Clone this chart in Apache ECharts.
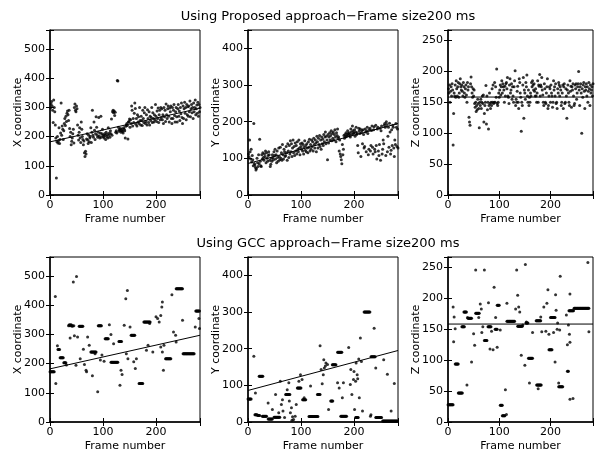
<!DOCTYPE html>
<html>
<head>
<meta charset="utf-8">
<script src="https://cdn.jsdelivr.net/npm/echarts@6/dist/echarts.min.js"></script>
<style>
  html, body { margin: 0; padding: 0; background: #fff; }
  #chart { width: 596px; height: 455px; }
</style>
</head>
<body>
<div id="chart"></div>
<script>
// frame-by-frame estimates, proposed approach (frames 1..283)
var propX = [
  298,312,320,305,290,248,325,300,285,240, 195,58,182,200,178,186,230,176,190,212,
  315,205,236,225,190,220,245,262,238,270, 252,280,288,275,255,290,228,200,215,172,
  184,195,210,225,178,300,312,290,285,305, 295,240,205,188,215,230,196,180,250,225,
  200,190,172,185,145,132,150,140,192,210, 188,176,205,182,195,200,230,180,215,290,
  205,198,250,222,190,210,268,232,205,198, 215,265,202,195,212,270,198,210,225,205,
  200,195,210,205,190,215,200,208,195,230, 205,212,198,220,210,260,205,285,290,282,
  288,272,283,215,220,212,392,390,232,218, 225,222,228,215,220,226,218,212,230,225,
  220,195,235,240,245,238,192,250,252,260, 232,258,245,305,290,236,262,248,280,315,
  296,242,262,236,275,250,268,245,300,255, 240,270,255,238,290,262,248,282,300,245,
  252,275,240,292,262,248,285,240,270,255, 265,300,248,282,262,250,275,258,310,270,
  252,288,262,298,248,275,290,258,300,265, 295,258,275,245,300,268,290,252,312,275,
  262,295,305,270,250,298,285,305,262,245, 300,262,290,310,272,250,285,300,268,250,
  295,310,270,288,255,300,278,315,265,245, 305,262,295,318,280,300,258,310,275,302,
  270,305,285,322,268,295,310,282,300,262, 315,285,300,325,275,295,308,280,318,270,
  310,285,300
];
var propY = [
  112,104,150,118,98,125,90,108,96,80, 195,86,82,75,68,72,100,88,78,110,
  85,152,92,80,78,110,98,115,102,95, 112,105,120,88,115,100,92,108,118,110,
  95,78,84,100,92,110,102,96,118,108, 125,98,110,88,120,102,92,128,105,96,
  130,100,115,95,138,110,98,125,118,105, 108,132,115,95,140,120,102,135,112,148,
  118,140,105,128,150,115,132,108,142,120, 135,112,145,125,118,150,128,110,140,132,
  125,142,120,138,112,130,148,122,135,118, 140,128,115,145,130,152,120,138,125,150,
  132,145,120,155,138,128,150,142,118,160, 145,128,155,138,162,132,150,125,158,140,
  152,135,165,145,158,172,140,160,150,96, 165,142,158,170,150,162,175,148,168,155,
  172,150,165,178,158,145,170,162,180,155, 158,120,150,112,105,96,85,138,110,125,
  162,155,165,158,170,160,165,175,168,162, 170,165,158,180,172,165,188,175,168,170,
  178,160,172,185,165,170,135,115,182,175, 168,180,105,170,176,140,178,165,128,132,
  180,172,118,175,185,168,110,125,178,182, 120,135,176,188,130,112,178,186,125,118,
  190,135,98,180,185,120,108,138,182,95, 175,188,112,125,150,140,190,195,185,108,
  200,192,118,160,185,130,196,172,112,122, 178,135,190,185,128,105,150,138,195,185,
  132,180,128
];
var propZ = [
  172,165,178,150,168,175,160,180,170,81, 132,165,160,178,158,185,172,160,175,182,
  158,165,180,188,175,170,178,168,160,182, 175,165,158,172,178,162,150,182,170,175,
  126,118,113,180,191,175,165,158,172,160, 170,148,142,150,135,145,138,155,148,140,
  109,150,145,155,140,150,160,148,162,118, 132,145,150,177,115,160,138,150,107,145,
  165,148,140,150,145,172,150,178,148,150, 182,150,175,158,204,148,145,150,165,158,
  170,178,162,175,185,165,180,175,170,150, 176,160,180,182,172,190,160,158,148,178,
  188,165,170,180,155,175,160,150,175,185, 201,145,155,150,168,176,150,140,188,182,
  165,158,103,150,145,178,190,124,170,165, 155,182,175,194,160,150,170,145,158,150,
  165,160,182,175,185,178,170,180,168,160, 172,160,150,165,185,150,178,176,195,160,
  178,175,190,170,162,150,145,180,172,150, 148,165,175,188,140,145,160,175,172,150,
  178,165,160,142,150,185,170,175,160,180, 148,150,140,172,165,182,178,160,175,170,
  145,150,165,178,140,175,180,148,150,172, 160,124,170,178,165,150,145,185,168,176,
  142,175,170,180,160,145,148,178,172,180, 155,165,175,180,200,170,145,175,180,165,
  100,172,158,178,182,168,140,175,170,180, 160,175,150,168,182,172,145,178,165,170,
  175,160,180
];

// GCC approach: [frame, value] (runs of equal values show as short dashes)
var gccX = [
  [0,172],[1,172],[2,172],[3,172],[4,172],[5,172],[6,172],[7,172],[8,172],[10,430],[11,132],
  [14,261],[15,248],[16,248],[17,248],[18,248],[19,220],[20,220],[21,220],[22,220],[23,220],[24,220],[25,220],
  [26,203],[27,203],[28,203],[29,203],[30,203],[31,195],[35,330],[36,332],[37,333],[38,330],[39,332],[40,333],
  [41,330],[42,328],[43,330],[45,330],[38,288],[44,479],[46,295],[49,194],[50,498],[52,291],
  [55,328],[56,328],[57,328],[58,328],[59,328],[60,328],[61,328],[62,328],[57,217],[63,249],[65,197],[68,177],
  [69,172],[71,291],[74,263],[77,240],[78,240],[79,240],[80,240],[81,240],[82,240],[83,240],[84,240],[85,240],
  [86,240],[87,240],[80,158],[85,234],[90,104],[91,330],[92,330],[93,330],[94,330],[95,330],[96,330],[97,330],
  [95,212],[98,229],[102,208],[104,285],[105,285],[106,285],[107,285],[108,285],[109,285],[110,285],[112,333],[115,300],
  [115,205],[116,205],[117,205],[118,205],[119,205],[120,205],[121,205],[122,205],[123,205],[124,205],[125,205],
  [126,205],[127,205],[128,205],[120,268],[130,276],[131,276],[132,276],[133,276],[134,276],[135,276],
  [132,126],[134,177],[136,163],[140,331],[143,422],[144,234],[146,450],[147,217],[151,325],
  [153,297],[154,297],[155,297],[156,297],[157,297],[158,297],[159,297],[160,297],[158,206],[161,183],[163,217],
  [168,132],[169,132],[170,132],[171,132],[172,132],[173,132],[174,132],[175,132],
  [177,342],[178,342],[179,342],[180,342],[181,342],[182,342],[183,342],[184,342],[185,342],[186,342],[187,342],
  [188,342],[189,342],[182,246],[185,263],[188,337],[194,240],[200,360],[203,354],[206,342],[209,365],[211,394],
  [212,411],[209,257],[212,240],[214,177],[215,263],
  [218,217],[219,217],[220,217],[221,217],[222,217],[223,217],[224,217],[225,217],[226,217],[227,217],[228,217],
  [230,436],[233,308],[237,297],[238,274],
  [238,456],[239,456],[240,456],[241,456],[242,456],[243,456],[244,456],[245,456],[246,456],[247,456],[248,456],
  [249,456],[250,456],[250,348],
  [251,234],[252,234],[253,234],[254,234],[255,234],[256,234],[257,234],[258,234],[259,234],[260,234],[261,234],
  [262,234],[263,234],[264,234],[265,234],[266,234],[267,234],[268,234],[269,234],[270,234],[271,234],[272,234],
  [274,325],[275,380],[276,380],[277,380],[278,380],[279,380],[280,380],[281,380],[282,380],[281,354],[282,320]
];
var gccY = [
  [0,63],[1,63],[2,63],[3,63],[4,63],[5,63],[6,63],[11,179],[14,79],
  [13,20],[14,20],[15,20],[16,20],[17,19],[18,19],[19,18],[20,18],[21,18],[22,18],
  [21,125],[22,125],[23,125],[24,125],[25,125],[26,125],[27,125],[28,125],
  [27,16],[28,16],[29,16],[30,16],[31,16],[32,16],[33,16],[34,16],[35,16],[38,52],
  [38,8],[39,8],[40,8],[41,8],[42,8],[43,8],[44,8],[45,8],[46,8],[46,34],[52,75],
  [49,13],[50,13],[51,13],[52,13],[53,13],[54,13],[55,13],[56,13],[57,13],[58,13],[59,13],[60,13],
  [58,25],[61,111],[63,48],[65,61],[66,30],[69,12],
  [71,75],[72,75],[73,75],[74,75],[75,75],[76,75],[77,75],[78,75],[79,75],
  [74,88],[77,107],[78,57],[80,25],[82,39],[83,5],[84,14],[86,7],[89,16],[91,48],
  [93,93],[94,93],[95,93],[96,93],[97,93],[98,93],[99,93],[100,93],[96,111],[99,129],[102,116],
  [103,61],[104,61],[105,61],[106,61],[107,61],[108,61],[109,61],[106,66],
  [115,15],[116,15],[117,15],[118,15],[119,15],[120,15],[121,15],[122,15],[123,15],[124,15],[125,15],
  [126,15],[127,15],[128,15],[129,15],[130,15],[131,15],[132,15],[118,98],
  [131,75],[132,75],[133,75],[134,75],[135,75],[136,75],
  [136,208],[138,143],[140,104],[142,129],[143,170],[144,147],[146,153],[147,161],[150,157],[152,34],
  [156,57],[157,57],[158,57],[159,57],[160,57],
  [159,156],[160,156],[161,156],[162,156],[163,156],[164,156],[165,156],[166,156],[169,107],[172,93],
  [169,190],[170,190],[171,190],[172,190],[173,190],[174,190],[175,190],[176,190],[177,190],
  [175,16],[176,16],[177,16],[178,16],[179,16],[180,16],[181,16],[182,16],[183,16],[184,16],[185,16],[186,16],
  [178,66],[180,107],[190,203],[193,102],[194,143],[196,75],[199,116],[200,138],[201,34],[203,111],[204,161],
  [203,12],[204,12],[205,12],[206,12],[207,12],[208,12],
  [206,129],[207,118],[209,172],[210,66],[212,229],[214,165],[216,30],
  [219,300],[220,300],[221,300],[222,300],[223,300],[224,300],[225,300],[226,300],[227,300],[228,300],[229,300],[230,300],
  [231,16],[232,20],
  [232,178],[233,178],[234,178],[235,178],[236,178],[237,178],[238,178],[239,178],[240,178],
  [238,256],[241,147],
  [241,12],[242,12],[243,12],[244,12],[245,12],[246,12],[247,12],[248,12],[249,12],[250,12],[251,12],[252,12],
  [254,3],[255,3],[256,3],[257,3],[258,3],[259,3],[260,3],[261,3],[262,3],[263,3],[264,3],[265,3],[266,3],
  [267,3],[268,3],[269,3],[270,3],[271,3],[272,3],[273,3],[274,3],[275,3],[276,3],[277,3],[278,3],[279,3],
  [280,3],[281,3],[282,3],[256,170],[263,130],[270,30],[276,105]
];
var gccZ = [
  [0,28],[1,28],[2,28],[3,28],[4,28],[5,28],[6,28],[7,28],[8,28],[9,28],[10,28],
  [10,186],[11,130],[12,170],[14,151],
  [14,94],[15,94],[16,94],[17,94],[18,94],[19,94],[20,94],
  [20,47],[21,47],[22,47],[23,47],[24,47],[25,47],[26,47],[27,47],[28,47],
  [27,154],[28,154],[29,154],[30,154],[31,154],[32,154],
  [31,178],[32,178],[33,178],[34,178],[35,178],[36,178],[37,60],[38,169],
  [39,168],[40,168],[41,168],[42,168],[43,168],[44,168],[45,168],[46,168],
  [46,97],[50,143],[52,124],[54,246],
  [54,176],[55,176],[56,176],[57,176],[58,176],[59,176],[60,176],[61,176],
  [60,169],[63,191],[65,183],[66,145],[68,154],[71,246],
  [71,132],[72,132],[73,132],[74,132],[75,132],[76,132],[79,193],
  [78,154],[79,154],[80,154],[81,154],[82,154],[83,154],[84,154],
  [82,118],[85,147],[88,117],[90,218],[93,169],
  [92,150],[93,150],[94,150],[95,150],[96,150],
  [96,189],[97,189],[98,189],[99,189],[100,189],[96,121],[102,149],
  [102,27],[103,27],[104,27],[105,27],[106,27],
  [106,10],[107,10],[108,10],[109,10],[110,10],[111,10],[112,52],[114,12],[115,192],
  [115,163],[116,163],[117,163],[118,163],[119,163],[120,163],[121,163],[122,163],[123,163],[124,163],
  [125,163],[126,163],[127,163],[128,163],[129,163],[130,163],
  [132,183],[134,246],[136,205],[138,186],[140,178],
  [136,155],[137,155],[138,155],[139,155],[140,155],[141,155],[142,155],[143,155],[144,155],[145,155],
  [143,108],[146,157],[150,92],[151,255],[153,162],
  [152,160],[153,160],[154,160],[155,160],[156,160],[159,63],
  [157,103],[158,103],[159,103],[160,103],[161,103],[162,103],[163,103],[164,103],[165,103],[165,145],
  [172,164],[173,164],[174,164],[175,164],[176,164],[177,164],[178,164],[179,164],[180,164],[181,164],
  [173,60],[174,60],[175,60],[176,60],[177,60],[178,60],[179,60],[180,60],[181,60],[182,60],
  [176,54],[181,170],[183,146],[187,186],[191,147],[193,192],[195,214],[197,142],
  [197,117],[198,117],[199,117],[200,117],[201,117],[202,117],[203,117],
  [200,169],[201,169],[202,169],[203,169],[204,169],[205,169],[206,169],[207,169],[208,169],[209,169],
  [206,145],[209,97],[210,206],[211,181],[213,150],[214,160],[216,63],[218,149],[219,236],
  [216,57],[217,57],[218,57],[219,57],[220,57],[221,57],[222,57],[223,57],[224,57],
  [231,173],[233,125],[233,82],[234,82],[235,82],
  [235,157],[237,142],[238,129],[238,207],[238,37],[244,38],
  [236,180],[237,180],[238,180],[239,180],[240,180],[241,180],[242,180],[243,180],[244,180],[245,180],
  [246,184],[247,184],[248,184],[249,184],[250,184],[251,184],[252,184],[253,184],[254,184],[255,184],
  [256,184],[257,184],[258,184],[259,184],[260,184],[261,184],[262,184],[263,184],[264,184],[265,184],
  [266,184],[267,184],[268,184],[269,184],[270,184],[271,184],[272,184],[273,184],[274,184],[275,184],
  [273,258],[275,146]
];

// fitted lines: [frame, value] at both ends
var lineX = [[0, 182], [283, 297]];
var lineY = [[0, 86], [283, 195]];
var lineZ = [[0, 158.5], [283, 158.5]];

var titles = ['Using Proposed approach\u2212Frame size200 ms', 'Using GCC approach\u2212Frame size200 ms'];
var FONT = 'DejaVu Sans';
var frameMax = 283;

function byFrame(arr) {
  return arr.map(function (v, i) { return [i + 1, v]; });
}

var panels = [
  { left: 50,  top: 30,  ymax: 565, step: 100, name: 'X coordinate', pts: byFrame(propX), line: lineX },
  { left: 248, top: 30,  ymax: 450, step: 100, name: 'Y coordinate', pts: byFrame(propY), line: lineY },
  { left: 448, top: 30,  ymax: 267, step: 50,  name: 'Z coordinate', pts: byFrame(propZ), line: lineZ },
  { left: 50,  top: 257, ymax: 565, step: 100, name: 'X coordinate', pts: gccX, line: lineX },
  { left: 248, top: 257, ymax: 450, step: 100, name: 'Y coordinate', pts: gccY, line: lineY },
  { left: 448, top: 257, ymax: 267, step: 50,  name: 'Z coordinate', pts: gccZ, line: lineZ }
];

function fmt(step) {
  return function (v) { return v % step === 0 ? String(v) : ''; };
}

var grid = [], xAxis = [], yAxis = [], series = [];
var txt = { color: '#000', fontFamily: FONT, fontSize: 11 };

panels.forEach(function (p, i) {
  grid.push({ left: p.left, top: p.top, width: 150, height: 165, show: true,
    borderColor: '#000', borderWidth: 1, containLabel: false });

  xAxis.push({
    gridIndex: i, type: 'value', min: 0, max: frameMax, interval: 100,
    name: 'Frame number', nameLocation: 'middle', nameGap: 19, nameMoveOverlap: false,
    nameTextStyle: txt,
    axisLine: { onZero: false, lineStyle: { color: '#000', width: 1.5 } },
    axisTick: { inside: true, length: 4, lineStyle: { color: '#000' } },
    axisLabel: Object.assign({ margin: 5, formatter: fmt(100) }, txt),
    splitLine: { show: false }
  });
  yAxis.push({
    gridIndex: i, type: 'value', min: 0, max: p.ymax, interval: p.step,
    name: p.name, nameLocation: 'middle', nameGap: 26, nameMoveOverlap: false,
    nameTextStyle: txt,
    axisLine: { onZero: false, lineStyle: { color: '#000', width: 1.5 } },
    axisTick: { inside: true, length: 4, lineStyle: { color: '#000' } },
    axisLabel: Object.assign({ margin: 5, formatter: fmt(p.step) }, txt),
    splitLine: { show: false }
  });

  series.push({
    type: 'scatter', xAxisIndex: i, yAxisIndex: i, data: p.pts,
    symbol: 'circle', symbolSize: 3, itemStyle: { color: '#000' }, silent: true
  });
  series.push({
    type: 'line', xAxisIndex: i, yAxisIndex: i, data: p.line,
    showSymbol: false, lineStyle: { color: '#000', width: 1 }, silent: true
  });
});

// mirrored ticks on top and right edges (matlab box)
panels.forEach(function (p, i) {
  xAxis.push({
    gridIndex: i, type: 'value', position: 'top', min: 0, max: frameMax, interval: 100,
    axisLine: { show: false }, axisLabel: { show: false }, splitLine: { show: false },
    axisTick: { inside: true, length: 4, lineStyle: { color: '#000' } }
  });
  yAxis.push({
    gridIndex: i, type: 'value', position: 'right', min: 0, max: p.ymax, interval: p.step,
    axisLine: { show: false }, axisLabel: { show: false }, splitLine: { show: false },
    axisTick: { inside: true, length: 4, lineStyle: { color: '#000' } }
  });
});

var chart = echarts.init(document.getElementById('chart'));
chart.setOption({
  animation: false,
  backgroundColor: '#fff',
  title: [
    { text: titles[0], left: 323, top: 5, textAlign: 'center',
      textStyle: { color: '#000', fontFamily: FONT, fontSize: 13, fontWeight: 'normal' } },
    { text: titles[1], left: 323, top: 232, textAlign: 'center',
      textStyle: { color: '#000', fontFamily: FONT, fontSize: 13, fontWeight: 'normal' } }
  ],
  grid: grid,
  xAxis: xAxis,
  yAxis: yAxis,
  series: series
});
</script>
</body>
</html>
